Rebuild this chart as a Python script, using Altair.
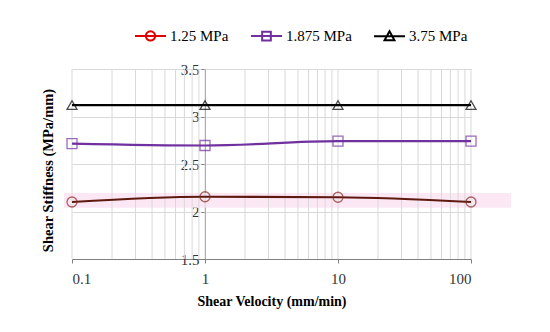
import altair as alt
import pandas as pd

# ---- data ----
velocity = [0.1, 1, 10, 100]
stiff_125 = [2.10, 2.155, 2.15, 2.10]
stiff_1875 = [2.715, 2.695, 2.74, 2.74]
stiff_375 = [3.12, 3.12, 3.12, 3.12]
series = ["1.25 MPa", "1.875 MPa", "3.75 MPa"]

x_major = [0.1, 1, 10, 100]
x_grid = [0.1, 0.2, 0.3, 0.4, 0.5, 0.6, 0.7, 0.8, 0.9,
          1, 2, 3, 4, 5, 6, 7, 8, 9,
          10, 20, 30, 40, 50, 60, 70, 80, 90, 100]
y_ticks = [1.5, 2, 2.5, 3, 3.5]

band_x = [0.087, 200]
band_y = [2.04, 2.195]

legend_colors = ["#E00000", "#7030A0", "#000000"]
line_colors = ["#5E1A0E", "#7030A0", "#000000"]
marker_colors = ["#8A2A20", "#7030A0", "#000000"]
marker_shapes = ["circle", "square", "triangle-up"]
legend_shapes = [
    "M-1,0H1M-0.3,0A0.3,0.3,0,1,1,0.3,0A0.3,0.3,0,1,1,-0.3,0Z",
    "M-1,0H1M-0.28,-0.28H0.28V0.28H-0.28Z",
    "M-1,0H1M0,-0.32L0.32,0.26H-0.32Z",
]

rows = []
for name, vals in zip(series, [stiff_125, stiff_1875, stiff_375]):
    for v, s in zip(velocity, vals):
        rows.append({"v": v, "s": s, "series": name})
df = pd.DataFrame(rows)
grid_df = pd.DataFrame({"g": x_grid})
band_df = pd.DataFrame({"x0": [band_x[0]], "x1": [band_x[1]],
                        "y0": [band_y[0]], "y1": [band_y[1]]})

FONT = "Liberation Serif"
W, H = 399, 190

xscale = alt.Scale(type="log", domain=[0.1, 100], nice=False)
yscale = alt.Scale(domain=[1.5, 3.5], zero=False, nice=False)

x_axis = alt.Axis(values=x_major, format="~g", grid=False, title="Shear Velocity (mm/min)",
                  domainColor="#808080", tickColor="#808080", tickSize=4,
                  labelFont=FONT, labelFontSize=15, labelColor="#333333", labelPadding=8,
                  titleFont=FONT, titleFontSize=14, titleFontWeight="bold",
                  titleColor="#000000", titlePadding=8)
y_axis = alt.Axis(values=y_ticks, format="~g", grid=True, gridColor="#D9D9D9",
                  offset=-133, title="Shear Stiffness (MPa/mm)",
                  titleX=-157, titleY=101, titleBaseline="middle", titleAngle=-90,
                  domainColor="#808080", tickColor="#808080", tickSize=4,
                  labelFont=FONT, labelFontSize=15, labelColor="#333333", labelPadding=2,
                  titleFont=FONT, titleFontSize=14.5, titleFontWeight="bold",
                  titleColor="#000000")

band = alt.Chart(band_df).mark_rect(fill="#FCE4F4", opacity=0.9).encode(
    x=alt.X("x0:Q", scale=xscale, axis=x_axis),
    x2="x1:Q",
    y=alt.Y("y0:Q", scale=yscale, axis=y_axis),
    y2="y1:Q",
)

vgrid = alt.Chart(grid_df).mark_rule(color="#D9D9D9", strokeWidth=1).encode(
    x=alt.X("g:Q", scale=xscale),
)

lines = alt.Chart(df).mark_line(interpolate="monotone", strokeWidth=2.2).encode(
    x=alt.X("v:Q", scale=xscale),
    y=alt.Y("s:Q", scale=yscale),
    color=alt.Color("series:N", scale=alt.Scale(domain=series, range=line_colors), legend=None),
    detail="series:N",
)

points = alt.Chart(df).mark_point(filled=False, size=100, strokeWidth=1.3).encode(
    x=alt.X("v:Q", scale=xscale),
    y=alt.Y("s:Q", scale=yscale),
    color=alt.Color("series:N", scale=alt.Scale(domain=series, range=marker_colors), legend=None),
    shape=alt.Shape("series:N", scale=alt.Scale(domain=series, range=marker_shapes), legend=None),
)

leg = alt.Legend(title=None, orient="none", direction="horizontal", legendX=62, legendY=-50,
                 symbolSize=961, symbolStrokeWidth=2, symbolOpacity=1, symbolFillColor="transparent",
                 labelFont=FONT, labelFontSize=15, labelColor="#000000", labelOffset=3,
                 columnPadding=18)

legend_layer = alt.Chart(df).mark_point(filled=False, opacity=0).encode(
    x=alt.X("v:Q", scale=xscale),
    y=alt.Y("s:Q", scale=yscale),
    color=alt.Color("series:N", scale=alt.Scale(domain=series, range=legend_colors), legend=leg),
    shape=alt.Shape("series:N", scale=alt.Scale(domain=series, range=legend_shapes), legend=leg),
)

chart = alt.layer(band, vgrid, lines, points, legend_layer).resolve_scale(
    color="independent", shape="independent"
).properties(
    width=W, height=H,
    padding={"left": 64, "top": 61, "right": 70, "bottom": 60},
    autosize=alt.AutoSizeParams(type="none"),
    background="white",
).configure_view(strokeWidth=0)

chart.save("out.html", embed_options={"renderer": "svg", "actions": False})
